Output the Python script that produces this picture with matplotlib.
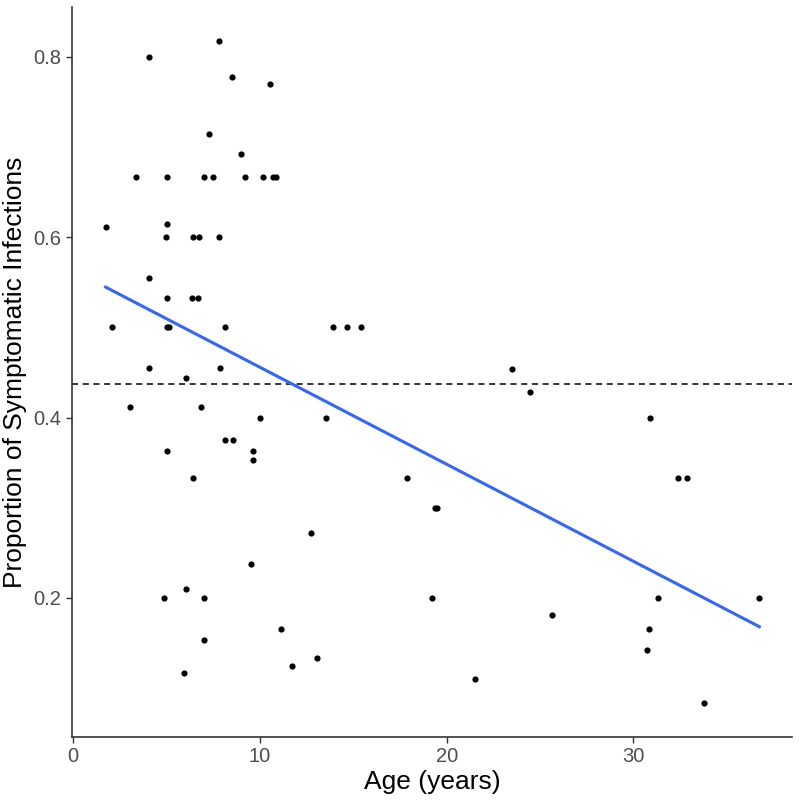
import numpy as np
import matplotlib
matplotlib.use('Agg')
import matplotlib.pyplot as plt

plt.rcParams['font.family'] = ['Liberation Sans', 'DejaVu Sans']

# age (years) and proportion of symptomatic infections
age = [1.73, 2.07, 3.05, 3.37, 4.05, 4.05, 4.05, 4.88, 5.04, 5.04,
       4.99, 5.04, 5.04, 5.15, 5.04, 5.92, 6.02, 6.02, 6.40, 6.35,
       6.40, 6.70, 6.72, 6.84, 6.99, 7.02, 7.02, 7.29, 7.47, 7.82,
       7.82, 7.88, 8.15, 8.15, 8.48, 8.54, 9.00, 9.21, 9.52, 9.64,
       9.64, 10.02, 10.14, 10.53, 10.70, 10.85, 11.14, 11.69, 12.71, 13.08,
       13.53, 13.90, 14.65, 15.40, 17.90, 19.20, 19.38, 19.47, 21.50, 23.48,
       24.49, 25.63, 30.87, 31.32, 30.82, 30.73, 32.37, 32.89, 33.76, 36.75]
prop = [0.611, 0.500, 0.412, 0.667, 0.800, 0.555, 0.455, 0.200, 0.667, 0.615,
        0.600, 0.533, 0.500, 0.500, 0.363, 0.117, 0.210, 0.444, 0.333, 0.533,
        0.600, 0.533, 0.600, 0.412, 0.667, 0.200, 0.153, 0.714, 0.667, 0.818,
        0.600, 0.455, 0.500, 0.375, 0.778, 0.375, 0.692, 0.667, 0.238, 0.363,
        0.353, 0.400, 0.667, 0.770, 0.667, 0.667, 0.166, 0.124, 0.272, 0.133,
        0.400, 0.500, 0.500, 0.500, 0.333, 0.200, 0.300, 0.300, 0.110, 0.454,
        0.428, 0.181, 0.400, 0.200, 0.166, 0.142, 0.333, 0.333, 0.083, 0.200]

# overall proportion (dashed reference line)
overall_prop = 0.437

x = np.array(age)
y = np.array(prop)

# linear fit like geom_smooth(method='lm')
b1, b0 = np.polyfit(x, y, 1)
xs = np.array([x.min(), x.max()])

fig = plt.figure(figsize=(8, 8), dpi=100)
ax = fig.add_axes([0.09, 0.079, 0.90, 0.912])

ax.axhline(overall_prop, color='black', lw=1.1, ls=(0, (4, 3)), zorder=1)
ax.scatter(x, y, s=20, color='black', zorder=3, linewidths=0)
ax.plot(xs, b0 + b1 * xs, color='#3366FF', lw=2.2, zorder=2)

ax.set_xlim(-0.07, 38.5)
ax.set_ylim(0.046, 0.855)
ax.set_xticks([0, 10, 20, 30])
ax.set_yticks([0.2, 0.4, 0.6, 0.8])
ax.set_yticklabels(['0.2', '0.4', '0.6', '0.8'])

for s in ['top', 'right']:
    ax.spines[s].set_visible(False)
for s in ['left', 'bottom']:
    ax.spines[s].set_color('#333333')
    ax.spines[s].set_linewidth(1.2)
ax.tick_params(colors='#333333', labelcolor='#4D4D4D', labelsize=14.5, length=4, width=1)

ax.set_xlabel('Age (years)', fontsize=19, labelpad=3)
ax.set_ylabel('Proportion of Symptomatic Infections', fontsize=19, labelpad=5)

fig.savefig('out.png', dpi=100)
